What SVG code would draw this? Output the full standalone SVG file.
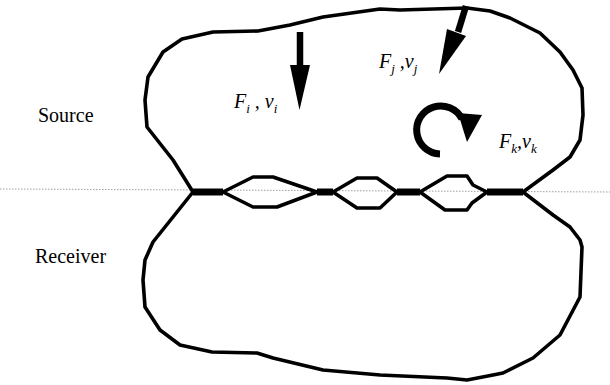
<svg xmlns="http://www.w3.org/2000/svg" width="610" height="385" viewBox="0 0 610 385">
<style>
.outline{fill:none;stroke:#000;stroke-width:3.6;stroke-linejoin:round}
.bar{stroke:#000;stroke-width:7;stroke-linecap:butt}
.lbl{font-family:"Liberation Serif","Times New Roman","DejaVu Serif",serif;font-size:20px;fill:#000}
.var{font-family:"Liberation Serif","Times New Roman","DejaVu Serif",serif;font-style:italic;font-size:20px;fill:#000}
.sub{font-size:13px}
</style>
<rect width="610" height="385" fill="#fff"/>
<line x1="0" y1="189" x2="610" y2="192" stroke="#888" stroke-width="0.8" stroke-dasharray="1.5 1.5"/>
<g id="source">
<path class="outline" d="M193,192 L173,160 L147,127 L145,100 L148,77 L163,52 L182,39 L213,32 L258,31 L290,25 L323,17 L380,9 L400,10 L467,8 L490,11 L510,18 L540,33 L560,52 L573,70 L582,88 L583,115 L580,140 L570,157 L553,170 L523,192 L487,192 L473,185 L467,176 L447,176 L420,192 L397,192 L377,178 L357,178 L333,192 L317,192 L273,177 L253,177 L223,192 Z"/>
<text class="lbl" x="38" y="122">Source</text>
</g>
<g id="receiver">
<path class="outline" d="M193,192 L153,242 L145,260 L143,280 L145,307 L160,330 L180,345 L212,352 L257,353 L273,358 L323,370 L380,375 L447,378 L467,380 L493,375 L503,373 L533,358 L560,335 L580,297 L582,247 L580,240 L570,227 L553,215 L523,192 L487,192 L472,203 L467,210 L445,210 L420,192 L397,192 L380,208 L357,208 L333,192 L317,192 L277,207 L253,207 L223,192 Z"/>
<text class="lbl" x="35" y="263">Receiver</text>
</g>
<g id="contacts">
<line class="bar" x1="193" y1="192" x2="223" y2="192"/>
<line class="bar" x1="317" y1="192" x2="333" y2="192"/>
<line class="bar" x1="397" y1="192" x2="420" y2="192"/>
<line class="bar" x1="487" y1="192" x2="523" y2="192"/>
</g>
<g id="force-i">
<line x1="300" y1="32" x2="300" y2="67" stroke="#000" stroke-width="6.5"/>
<polygon points="290,65 310,65 299.5,110" fill="#000"/>
<text class="var" x="234" y="108">F<tspan class="sub" dy="5">i</tspan><tspan dy="-5"> ,</tspan> v<tspan class="sub" dy="5">i</tspan></text>
</g>
<g id="force-j">
<line x1="466" y1="6" x2="458" y2="32" stroke="#000" stroke-width="6.5"/>
<polygon points="447,29 466,36 439,74" fill="#000"/>
<text class="var" x="379" y="68">F<tspan class="sub" dy="5">j</tspan><tspan dy="-5"> ,</tspan>v<tspan class="sub" dy="5">j</tspan></text>
</g>
<g id="force-k">
<path d="M440,154 A24,24 0 1 1 462,119" fill="none" stroke="#000" stroke-width="7"/>
<polygon points="458,113 482,115 467,142" fill="#000"/>
<text class="var" x="499" y="148">F<tspan class="sub" dy="5">k</tspan><tspan dy="-5">,</tspan>v<tspan class="sub" dy="5">k</tspan></text>
</g>
</svg>
